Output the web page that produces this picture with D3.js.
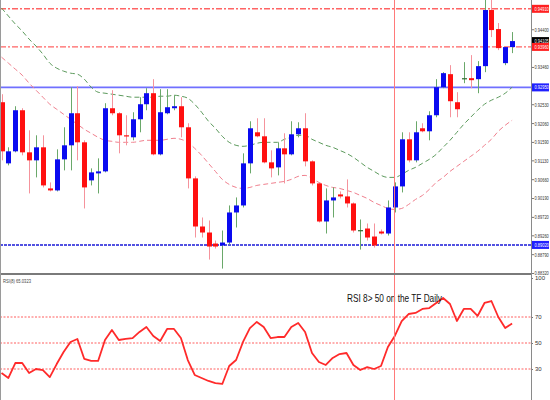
<!DOCTYPE html>
<html>
<head>
<meta charset="utf-8">
<script src="https://cdn.jsdelivr.net/npm/d3@7"></script>
<style>
  body { margin: 0; background: #fff; }
  svg { display: block; font-family: 'Liberation Sans', Arial, sans-serif; }
  .axis text { font-size: 6px; fill: #333; }
  .axis line { stroke: #777; }
</style>
</head>
<body>
<svg id="chart"></svg>
<script>
// Daily candles (price units)
const opens = [0.9258, 0.91055, 0.91355, 0.9238, 0.9133, 0.9113, 0.91455, 0.9043, 0.9038, 0.91155,
  0.91505, 0.92305, 0.9158, 0.9063, 0.90805, 0.90855, 0.9243, 0.92305, 0.91755, 0.91705,
  0.92155, 0.9253, 0.92805, 0.9128, 0.92305, 0.9243, 0.9248, 0.91955, 0.9068, 0.8948,
  0.8933, 0.89055, 0.89005, 0.8908, 0.8983, 0.90005, 0.91055, 0.9183, 0.9173, 0.9108,
  0.90955, 0.9143, 0.9128, 0.9178, 0.9193, 0.91105, 0.90555, 0.89605, 0.9013, 0.9028,
  0.9023, 0.90055, 0.8939, 0.8943, 0.8923, 0.89355, 0.89305, 0.89955, 0.9048, 0.91655,
  0.9113, 0.9193, 0.91855, 0.92255, 0.92955, 0.9328, 0.9258, 0.9318, 0.9318, 0.93155,
  0.9348, 0.9488, 0.94405, 0.93555, 0.93955];
const highs = [0.9278, 0.91455, 0.9248, 0.9243, 0.9188, 0.91755, 0.91755, 0.9058, 0.91405, 0.91955,
  0.92955, 0.9298, 0.9163, 0.9093, 0.9118, 0.92555, 0.9288, 0.9233, 0.92255, 0.9233,
  0.92705, 0.9293, 0.93155, 0.92905, 0.92905, 0.92755, 0.92705, 0.92055, 0.9073, 0.89705,
  0.8963, 0.8913, 0.8938, 0.90005, 0.90205, 0.91305, 0.92105, 0.9218, 0.9218, 0.9138,
  0.9158, 0.91805, 0.92105, 0.9208, 0.92305, 0.9113, 0.9058, 0.9043, 0.90455, 0.90355,
  0.90655, 0.9008, 0.89655, 0.89555, 0.89555, 0.89405, 0.9013, 0.9058, 0.9183, 0.9183,
  0.92105, 0.92055, 0.92355, 0.93155, 0.9333, 0.93505, 0.9283, 0.9358, 0.93755, 0.93605,
  0.9518, 0.9518, 0.94555, 0.9396, 0.9433];
const lows = [0.9113, 0.91005, 0.9133, 0.91255, 0.90305, 0.90705, 0.90455, 0.90355, 0.90355, 0.9088,
  0.9088, 0.9113, 0.8993, 0.90505, 0.90305, 0.9083, 0.92255, 0.91305, 0.91505, 0.9163,
  0.9183, 0.9238, 0.91255, 0.91255, 0.9228, 0.9238, 0.91705, 0.9043, 0.89205, 0.89205,
  0.88655, 0.8893, 0.8843, 0.8903, 0.89455, 0.89955, 0.90805, 0.91705, 0.91055, 0.90705,
  0.90755, 0.90555, 0.91255, 0.91705, 0.9098, 0.90505, 0.8958, 0.89305, 0.89705, 0.9018,
  0.89955, 0.8933, 0.88905, 0.8913, 0.88955, 0.8928, 0.89255, 0.8983, 0.9033, 0.9108,
  0.9108, 0.9183, 0.9163, 0.92205, 0.9293, 0.92205, 0.92205, 0.93055, 0.9293, 0.92805,
  0.9333, 0.94205, 0.9388, 0.93505, 0.93805];
const closes = [0.91355, 0.91355, 0.9238, 0.9133, 0.9113, 0.91455, 0.90505, 0.9038, 0.91155, 0.91505,
  0.92305, 0.9158, 0.90455, 0.9083, 0.90855, 0.9243, 0.92305, 0.91755, 0.9173, 0.92155,
  0.9253, 0.92805, 0.9128, 0.9233, 0.92455, 0.9248, 0.91955, 0.9068, 0.8948, 0.8933,
  0.8898, 0.8898, 0.8908, 0.8983, 0.90005, 0.91055, 0.9193, 0.9173, 0.9108, 0.9093,
  0.9143, 0.9128, 0.9178, 0.9193, 0.91105, 0.90555, 0.89605, 0.9013, 0.90205, 0.9023,
  0.90055, 0.8938, 0.8939, 0.89205, 0.89005, 0.89305, 0.89955, 0.9048, 0.91655, 0.9113,
  0.9183, 0.91855, 0.92255, 0.92955, 0.93305, 0.92605, 0.92405, 0.9318, 0.9313, 0.9348,
  0.9488, 0.9438, 0.9393, 0.93955, 0.94105];

// moving averages (green = slow, pink = fast)
const maSlow = [0.9493, 0.9473, 0.9453, 0.94355, 0.94155, 0.9398, 0.9378, 0.93555, 0.9343, 0.93355,
  0.93305, 0.9328, 0.93155, 0.92955, 0.9283, 0.92805, 0.9278, 0.92755, 0.9273, 0.92705,
  0.92705, 0.92705, 0.92705, 0.9273, 0.9273, 0.92755, 0.9273, 0.9268, 0.9253, 0.9233,
  0.92105, 0.9193, 0.9173, 0.9158, 0.91505, 0.9148, 0.91505, 0.91555, 0.9158, 0.9158,
  0.9158, 0.91655, 0.91705, 0.91755, 0.91755, 0.91655, 0.9158, 0.91505, 0.91455, 0.9138,
  0.91305, 0.91205, 0.9108, 0.90955, 0.90855, 0.90755, 0.90705, 0.90705, 0.9078, 0.9088,
  0.90955, 0.91055, 0.91155, 0.9128, 0.91455, 0.9163, 0.9183, 0.9203, 0.92205, 0.9238,
  0.9253, 0.9263, 0.92705, 0.92805, 0.92955];
const maFast = [0.93705, 0.93555, 0.93405, 0.93255, 0.93055, 0.9288, 0.92705, 0.9253, 0.92405, 0.9228,
  0.92155, 0.9203, 0.91905, 0.91805, 0.91705, 0.9163, 0.91605, 0.9158, 0.9158, 0.9158,
  0.91605, 0.9163, 0.9163, 0.9163, 0.91655, 0.9168, 0.91655, 0.9158, 0.9143, 0.91255,
  0.91055, 0.90855, 0.90655, 0.9053, 0.90455, 0.9043, 0.90455, 0.90505, 0.9053, 0.90555,
  0.9058, 0.90605, 0.90655, 0.9073, 0.90755, 0.9068, 0.9058, 0.90505, 0.90455, 0.9043,
  0.9038, 0.9033, 0.90255, 0.9018, 0.9008, 0.90005, 0.8993, 0.89905, 0.8993, 0.9003,
  0.90155, 0.90255, 0.90405, 0.9058, 0.90705, 0.90855, 0.9098, 0.91105, 0.9123, 0.91355,
  0.91505, 0.91655, 0.91855, 0.92005, 0.9213];

// RSI(8)
const rsiValues = [26.9, 23.1, 34.6, 34.6, 26.9, 30.0, 29.2, 23.8, 33.8, 43.1,
  50.8, 53.1, 37.7, 36.2, 36.2, 52.3, 60.0, 52.3, 53.1, 53.8,
  58.5, 62.3, 55.4, 51.5, 60.8, 60.8, 53.8, 36.9, 25.4, 23.1,
  20.8, 19.2, 18.5, 32.3, 36.9, 50.8, 61.5, 66.2, 62.3, 53.8,
  54.6, 54.6, 62.3, 65.4, 58.5, 42.3, 35.4, 33.1, 38.5, 41.5,
  42.3, 33.1, 29.2, 31.5, 30.0, 32.3, 46.9, 55.4, 66.9, 72.3,
  73.1, 76.2, 76.9, 80.8, 84.6, 80.0, 66.9, 76.2, 76.2, 70.8,
  80.8, 82.3, 70.0, 61.5, 65.0];

// labels hidden under the level tags are left out
const priceTicks = [0.94400, 0.93460, 0.92530, 0.92060, 0.91590, 0.91130,
  0.90660, 0.90190, 0.89720, 0.89260, 0.88790, 0.88320];
const resistanceLevels = [0.94910, 0.93960];
const supportLevels = [0.92950, 0.89020];
const rsiTicks = [100, 70, 50, 30];
const rsiLevels = [70, 50, 30];
const markerIndex = 57;
const rsiLabel = 'RSI(8) 65.0323';
const noteText = 'RSI 8> 50 on the TF Daily';

class CandleChart {

  constructor(_config) {
    this.config = {
      parentElement: _config.parentElement,
      containerWidth: _config.containerWidth || 550,
      containerHeight: _config.containerHeight || 400,
    };
    this.config.plotRight = 531;
    this.config.priceBottom = 273;
    this.config.rsiTop = 275;
    this.config.labelSquash = 0.66;
    this.initVis();
  }

  initVis() {
    let vis = this;
    const cfg = vis.config;

    vis.data = d3.range(opens.length).map(i => ({
      i, o: opens[i], h: highs[i], l: lows[i], c: closes[i]
    }));

    vis.xScale = d3.scaleLinear()
      .domain([0, vis.data.length - 1])
      .range([1.5, 512.1]);

    vis.yPrice = d3.scaleLinear()
      .domain([0.88320, 0.95130])
      .range([cfg.priceBottom, 0]);

    vis.yRsi = d3.scaleLinear()
      .domain([0, 100])
      .range([408, 278]);

    vis.svg = d3.select(cfg.parentElement)
      .attr('width', cfg.containerWidth)
      .attr('height', cfg.containerHeight);

    const defs = vis.svg.append('defs');
    defs.append('clipPath').attr('id', 'clip-price')
      .append('rect').attr('x', 0).attr('y', 0)
      .attr('width', cfg.plotRight).attr('height', cfg.priceBottom);
    defs.append('clipPath').attr('id', 'clip-rsi')
      .append('rect').attr('x', 0).attr('y', cfg.rsiTop)
      .attr('width', cfg.plotRight).attr('height', cfg.containerHeight - cfg.rsiTop);

    vis.render();
  }

  render() {
    let vis = this;
    const cfg = vis.config;
    const x = vis.xScale, y = vis.yPrice;
    const squash = cfg.labelSquash;

    const price = vis.svg.append('g').attr('clip-path', 'url(#clip-price)');

    // horizontal levels
    price.selectAll('line.res').data(resistanceLevels)
      .join('line')
        .attr('class', 'res')
        .attr('x1', 0).attr('x2', cfg.plotRight)
        .attr('y1', d => y(d)).attr('y2', d => y(d))
        .attr('stroke', '#ff6464')
        .attr('stroke-width', 1.4)
        .attr('stroke-dasharray', '6,2,2,2');

    price.append('line')
      .attr('x1', 0).attr('x2', cfg.plotRight)
      .attr('y1', y(supportLevels[0])).attr('y2', y(supportLevels[0]))
      .attr('stroke', '#7070ff').attr('stroke-width', 1.6);

    price.append('line')
      .attr('x1', 0).attr('x2', cfg.plotRight)
      .attr('y1', y(supportLevels[1])).attr('y2', y(supportLevels[1]))
      .attr('stroke', '#1a1ad8').attr('stroke-width', 1.5)
      .attr('stroke-dasharray', '3,1');

    // moving averages
    const maLine = d3.line()
      .x((d, i) => x(i))
      .y(d => y(d))
      .curve(d3.curveMonotoneX);

    price.append('path')
      .datum(maSlow)
      .attr('d', maLine)
      .attr('fill', 'none')
      .attr('stroke', '#5c9a5c')
      .attr('stroke-dasharray', '5,3');

    price.append('path')
      .datum(maFast)
      .attr('d', maLine)
      .attr('fill', 'none')
      .attr('stroke', '#f0808e')
      .attr('stroke-dasharray', '5,3');

    // candles
    const candle = price.selectAll('g.candle').data(vis.data)
      .join('g')
        .attr('class', 'candle');

    candle.append('line')
      .attr('x1', d => Math.round(x(d.i)) + 0.5)
      .attr('x2', d => Math.round(x(d.i)) + 0.5)
      .attr('y1', d => y(d.h))
      .attr('y2', d => y(d.l))
      .attr('stroke', d => d.c >= d.o ? '#6aa86a' : '#f5939c');

    candle.append('rect')
      .attr('x', d => Math.round(x(d.i)) - 2)
      .attr('width', 5)
      .attr('y', d => y(Math.max(d.o, d.c)))
      .attr('height', d => Math.max(1.2, Math.abs(y(d.o) - y(d.c))))
      .attr('fill', d => d.c > d.o ? '#0a0af0' : d.c < d.o ? '#ff1010' : '#2f6b2f');

    // price axis (labels squeezed sideways like the source)
    const yAxis = d3.axisRight(y)
      .tickValues(priceTicks)
      .tickSize(3)
      .tickSizeOuter(0)
      .tickFormat(d3.format('.5f'));

    const yAxisG = vis.svg.append('g')
      .attr('class', 'axis')
      .attr('transform', `translate(${cfg.plotRight},0)`)
      .call(yAxis);
    yAxisG.select('.domain').remove();
    yAxisG.selectAll('text')
      .attr('x', 3.5 / squash)
      .attr('transform', `scale(${squash},1)`);

    // level tags on the price axis
    const tags = [
      { v: resistanceLevels[0], fill: '#ff2020' },
      { v: closes[closes.length - 1], fill: '#000' },
      { v: resistanceLevels[1], fill: '#ff2020' },
      { v: supportLevels[0], fill: '#2020ff' },
      { v: supportLevels[1], fill: '#2020ff' }
    ];
    const tag = vis.svg.selectAll('g.tag').data(tags)
      .join('g')
        .attr('class', 'tag')
        .attr('transform', d => `translate(${cfg.plotRight},${y(d.v)})`);
    tag.append('rect')
      .attr('x', 1).attr('y', -4)
      .attr('width', 17).attr('height', 8)
      .attr('fill', d => d.fill);
    tag.append('text')
      .attr('x', 3.5 / squash).attr('dy', '0.35em')
      .attr('transform', `scale(${squash},1)`)
      .attr('font-size', 6)
      .attr('fill', '#fff')
      .text(d => d3.format('.5f')(d.v));

    // RSI panel
    const rsi = vis.svg.append('g').attr('clip-path', 'url(#clip-rsi)');

    rsi.selectAll('line.level').data(rsiLevels)
      .join('line')
        .attr('class', 'level')
        .attr('x1', 0).attr('x2', cfg.plotRight)
        .attr('y1', d => vis.yRsi(d))
        .attr('y2', d => vis.yRsi(d))
        .attr('stroke', '#ff6060')
        .attr('stroke-width', 1.2)
        .attr('stroke-dasharray', '2,1.5');

    rsi.append('path')
      .datum(rsiValues)
      .attr('d', d3.line().x((d, i) => x(i)).y(d => vis.yRsi(d)))
      .attr('fill', 'none')
      .attr('stroke', '#ff2a2a')
      .attr('stroke-width', 1.8)
      .attr('stroke-linejoin', 'round');

    const rsiAxisG = vis.svg.append('g')
      .attr('class', 'axis')
      .attr('transform', `translate(${cfg.plotRight},0)`)
      .call(d3.axisRight(vis.yRsi).tickValues(rsiTicks).tickSize(2).tickSizeOuter(0));
    rsiAxisG.select('.domain').remove();
    rsiAxisG.selectAll('text').attr('x', 4);

    vis.svg.append('text')
      .attr('x', 3).attr('y', 283)
      .attr('font-size', 6)
      .attr('fill', '#444')
      .attr('textLength', 28)
      .attr('lengthAdjust', 'spacingAndGlyphs')
      .text(rsiLabel);

    vis.svg.append('text')
      .attr('x', 347).attr('y', 301.5)
      .attr('font-size', 11)
      .attr('fill', '#111')
      .attr('textLength', 95)
      .attr('lengthAdjust', 'spacingAndGlyphs')
      .text(noteText);

    // marker bar, frames
    vis.svg.append('line')
      .attr('x1', Math.round(x(markerIndex)) - 0.5).attr('x2', Math.round(x(markerIndex)) - 0.5)
      .attr('y1', 0).attr('y2', cfg.containerHeight)
      .attr('stroke', '#ff7a7a');

    vis.svg.append('line')
      .attr('x1', 0).attr('x2', cfg.plotRight + 1)
      .attr('y1', 274).attr('y2', 274)
      .attr('stroke', '#7a7a7a').attr('stroke-width', 2);

    vis.svg.append('line')
      .attr('x1', cfg.plotRight + 0.5).attr('x2', cfg.plotRight + 0.5)
      .attr('y1', 0).attr('y2', cfg.containerHeight)
      .attr('stroke', '#8a8a8a');

    vis.svg.append('line')
      .attr('x1', 0.5).attr('x2', 0.5)
      .attr('y1', 0).attr('y2', cfg.containerHeight)
      .attr('stroke', '#9a9a9a');
  }
}

new CandleChart({ parentElement: '#chart' });
</script>
</body>
</html>
